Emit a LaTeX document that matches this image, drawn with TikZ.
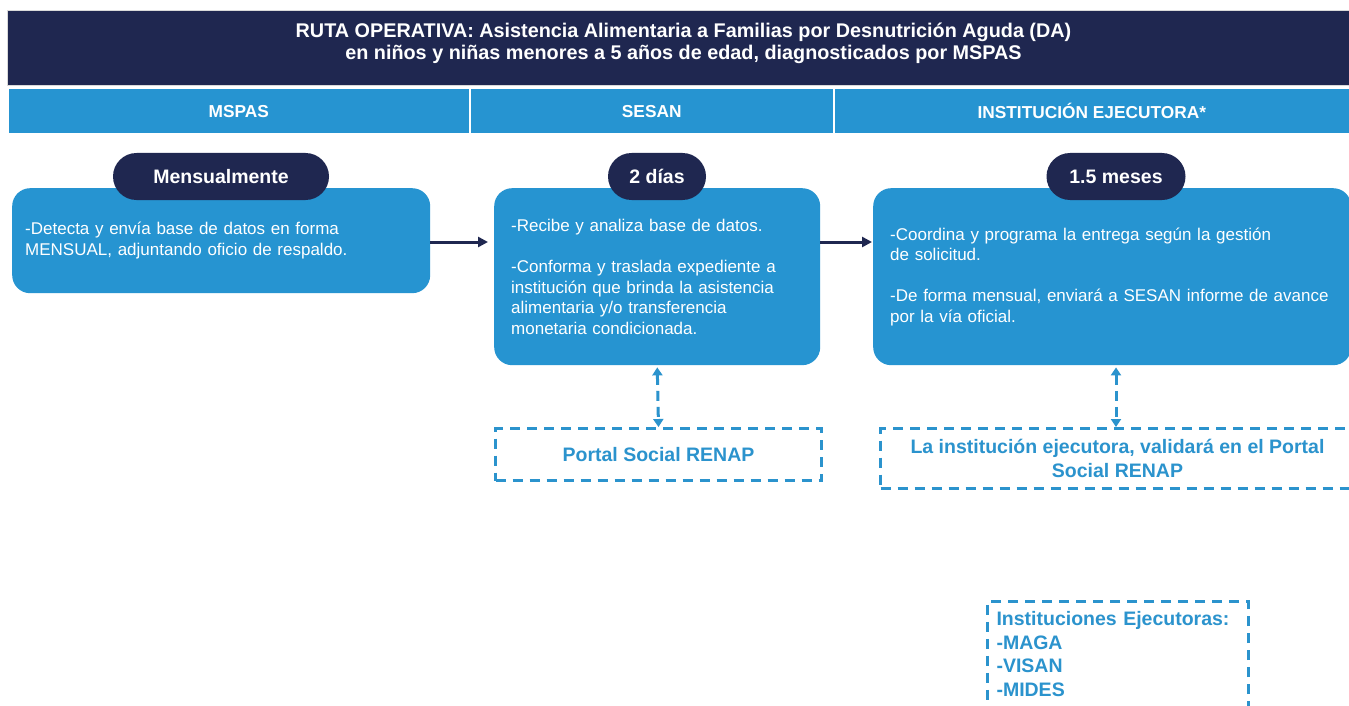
\documentclass[tikz,border=0pt]{standalone}
\usepackage{fontspec}
\setmainfont{Liberation Sans}
\usetikzlibrary{arrows.meta}
\definecolor{navy}{HTML}{1F2750}
\definecolor{lblue}{HTML}{2694D1}
\definecolor{dblue}{HTML}{2B93CD}
\tikzset{
  banner/.style={fill=navy, draw=black!15, line width=1pt, text=white, align=center, inner sep=0pt,
    font=\fontsize{19.8}{22}\selectfont\bfseries},
  hdr/.style={fill=lblue, draw=white, line width=1.5pt, text=white, inner sep=0pt,
    font=\fontsize{17.3}{20}\selectfont\bfseries},
  stepbox/.style={fill=lblue, rounded corners=18pt, text=white, align=left,
    font=\fontsize{17}{20.5}\selectfont, inner ysep=0pt},
  pill/.style={fill=navy, rounded corners=23.5pt, text=white, minimum height=47pt,
    inner sep=0pt, font=\fontsize{19.5}{22}\selectfont\bfseries},
  dashbox/.style={draw=dblue, line width=3pt, dash pattern=on 10pt off 7pt, text=dblue,
    font=\fontsize{19.5}{23.5}\selectfont\bfseries},
  flow/.style={draw=navy, line width=3pt, -{Triangle[length=10pt,width=10pt]}},
  dflow/.style={draw=dblue, line width=3pt, dash pattern=on 10pt off 6pt,
    {Triangle[length=8pt,width=10pt]}-{Triangle[length=8pt,width=10pt]}},
}
\begin{document}
\begin{tikzpicture}[x=1pt,y=-1pt]
\useasboundingbox (0,0) rectangle (1349,706);
\clip (0,0) rectangle (1349,706);
\fill[white] (0,0) rectangle (1349,706);

\node[banner, anchor=north west, minimum width=1352pt, minimum height=75pt] (ban) at (7,10)
  {RUTA OPERATIVA: Asistencia Alimentaria a Familias por Desnutrición Aguda (DA)\\
   en niños y niñas menores a 5 años de edad, diagnosticados por MSPAS\rule[-14pt]{0pt}{0pt}};

\node[hdr, anchor=north west, minimum width=462pt, minimum height=45pt] (h1) at (7,88) {MSPAS};
\node[hdr, anchor=north west, minimum width=364pt, minimum height=45pt] (h2) at (469,88) {SESAN};
\node[hdr, anchor=north west, minimum width=516pt, minimum height=45pt] (h3) at (833,88) {INSTITUCIÓN EJECUTORA*};

\node[stepbox, anchor=north west, minimum width=418pt, minimum height=105pt, text width=392pt, inner xsep=13pt] (b1) at (12,188)
  {-Detecta y envía base de datos en forma\\MENSUAL, adjuntando oficio de respaldo.};
\node[stepbox, anchor=north west, minimum width=326pt, minimum height=177pt, text width=292pt, inner xsep=17pt] (b2) at (494,188)
  {-Recibe y analiza base de datos.\\[20.5pt]-Conforma y traslada expediente a\\institución que brinda la asistencia\\alimentaria y/o transferencia\\monetaria condicionada.};
\node[stepbox, anchor=north west, minimum width=478pt, minimum height=177pt, text width=444pt, inner xsep=17pt] (b3) at (873,188)
  {-Coordina y programa la entrega según la gestión\\de solicitud.\\[20.5pt]-De forma mensual, enviará a SESAN informe de avance\\por la vía oficial.};

\node[pill, minimum width=216pt] (p1) at (221,176.5) {Mensualmente};
\node[pill, minimum width=98pt] (p2) at (657,176.5) {2 días};
\node[pill, minimum width=139pt] (p3) at (1116,176.5) {1.5 meses};

\node[dashbox, anchor=north west, minimum width=326pt, minimum height=52pt, inner sep=0pt] (d1) at (494,427) {Portal Social RENAP};
\node[dashbox, anchor=north west, minimum width=474pt, minimum height=60pt, inner sep=0pt, align=center] (d2) at (879,427)
  {La institución ejecutora, validará en el Portal\\Social RENAP};
\node[dashbox, anchor=north west, text width=243pt, align=left, inner xsep=9pt, inner ysep=10pt] (d3) at (986,600)
  {Instituciones Ejecutoras:\\-MAGA\\-VISAN\\-MIDES\rule[-50pt]{0pt}{0pt}};

\coordinate (ar) at (0,242);
\draw[flow, shorten >=6pt] (b1.east |- ar) -- (b2.west |- ar);
\draw[flow, shorten >=1pt] (b2.east |- ar) -- (b3.west |- ar);

\draw[dflow, shorten <=2pt] (b2.south) -- (d1.north);
\draw[dflow, shorten <=2pt] (b3.south -| p3.south) -- (d2.north -| p3.south);
\end{tikzpicture}
\end{document}
